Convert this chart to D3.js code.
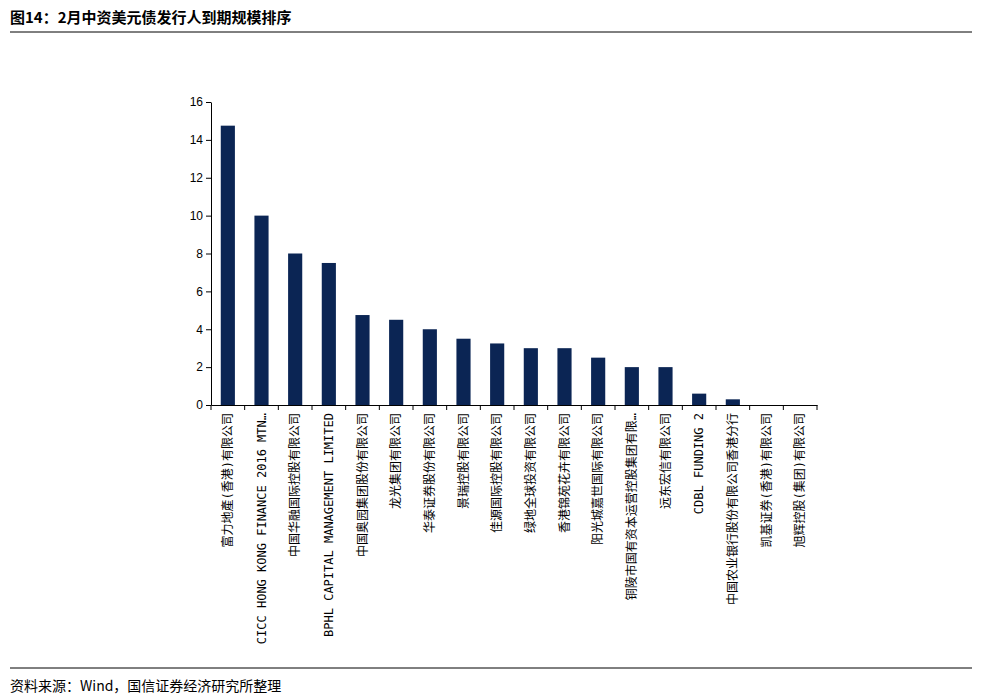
<!DOCTYPE html>
<html><head><meta charset="utf-8">
<script src="https://cdn.jsdelivr.net/npm/d3@7"></script>
<style>body{margin:0;background:#fff}text{font-family:"DejaVu Sans Mono","Noto Sans CJK SC",monospace}</style>
</head><body><svg id="c" width="982" height="699"></svg>
<script>
const issuers = ['富力地產(香港)有限公司','CICC HONG KONG FINANCE 2016 MTN…','中国华融国际控股有限公司','BPHL CAPITAL MANAGEMENT LIMITED','中国奥园集团股份有限公司','龙光集团有限公司','华泰证券股份有限公司','景瑞控股有限公司','佳源国际控股有限公司','绿地全球投资有限公司','香港锦苑花卉有限公司','阳光城嘉世国际有限公司','铜陵市国有资本运营控股集团有限…','远东宏信有限公司','CDBL FUNDING 2','中国农业银行股份有限公司香港分行','凯基证券(香港)有限公司','旭辉控股(集团)有限公司']
const amounts = [14.75,10,8,7.5,4.75,4.5,4,3.5,3.25,3,3,2.5,2,2,0.6,0.3,0,0]
const yTicks = [0,2,4,6,8,10,12,14,16]

const svg = d3.select('#c')
svg.append('text').attr('x',10).attr('y',23).style('font-size','15px').style('font-family','"Noto Sans CJK SC"').style('font-weight','bold').text('图14：2月中资美元债发行人到期规模排序')
svg.append('line').attrs?0:0
svg.append('line').attr('x1',10).attr('x2',972).attr('y1',32).attr('y2',32).attr('stroke','#000')
svg.append('line').attr('x1',10).attr('x2',972).attr('y1',668).attr('y2',668).attr('stroke','#000')
svg.append('text').attr('x',10).attr('y',691).style('font-size','14px').style('font-family','"Noto Sans CJK SC"').text('资料来源：Wind，国信证券经济研究所整理')

const x = d3.scaleBand().domain(issuers).range([211,817]).paddingInner(0.58).paddingOuter(0.29)
const y = d3.scaleLinear().domain([0,16]).range([405,102])

const ya = svg.append('g').attr('transform','translate(211,0)').call(d3.axisLeft(y).tickValues(yTicks).tickSize(5).tickSizeOuter(0))
ya.selectAll('text').style('font-size','12px').style('font-family','Arial,"Liberation Sans"')
svg.append('g').selectAll('rect').data(amounts).join('rect')
  .attr('x',(d,i)=>x(issuers[i])).attr('width',x.bandwidth())
  .attr('y',d=>y(d)).attr('height',d=>y(0)-y(d)).attr('fill','#0b2554')
const xa = svg.append('g').attr('transform','translate(0,405)')
  .call(d3.axisBottom(x).tickSize(5).tickSizeOuter(0))
xa.selectAll('.tick line').attr('transform',`translate(${-x.step()/2},0)`)
xa.append('line').attr('x1',817).attr('x2',817).attr('y1',0).attr('y2',5).attr('stroke','#000')
xa.selectAll('text').attr('transform','rotate(-90)').attr('x',-8).attr('y',0).attr('dy','0.35em')
  .style('text-anchor','end').style('font-size','12px')
</script></body></html>
